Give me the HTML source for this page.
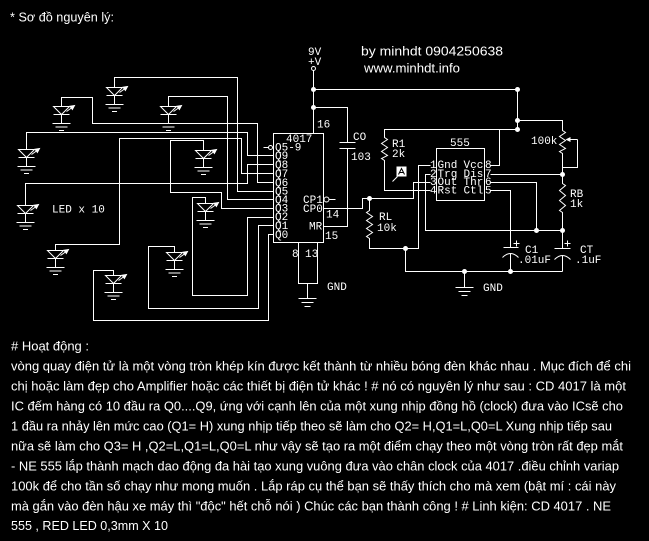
<!DOCTYPE html>
<html><head><meta charset="utf-8"><style>
html,body{margin:0;padding:0;background:#000;}
svg{display:block}
.m{font-family:"Liberation Mono","DejaVu Sans Mono",monospace;fill:#fff;font-size:11px}
.s{font-family:"Liberation Sans","DejaVu Sans",sans-serif;fill:#fff;font-size:13px}
</style></head><body>
<svg width="649" height="541" viewBox="0 0 649 541" xmlns="http://www.w3.org/2000/svg">
<rect width="649" height="541" fill="#000"/>

<text class="s" x="10" y="21.5" font-size="13.5" textLength="104" lengthAdjust="spacingAndGlyphs">* Sơ đồ nguyên lý:</text>
<text class="s" x="361" y="55.5" textLength="142" lengthAdjust="spacingAndGlyphs">by minhdt 0904250638</text>
<text class="s" x="364" y="72.5" font-size="12.5" textLength="96" lengthAdjust="spacingAndGlyphs">www.minhdt.info</text>

<g fill="none" stroke="#fff" stroke-width="1" transform="translate(0.5,0.5)">
  <!-- LED wiring -->
  <path d="M114,87 V77 H237 V191 H273"/>
  <path d="M61,106 V97 H92 V123 H257 V182 H273"/>
  <path d="M26,149 V132 H247 V155 H273"/>
  <path d="M203,150 V140 H170 V192 H221 V208 H273"/>
  <path d="M25,205 V183 H247 V164 H273"/>
  <path d="M168,106 V96 H227 V199 H273"/>
  <path d="M55,250 V244 H119 V138 H241 V173 H273"/>
  <path d="M205,203 V197 H192 V295 H247 V217 H273"/>
  <path d="M174,252 V246 H148 V308 H258 V225 H273"/>
  <path d="M113,275 V270 H93 V320 H268 V234 H273"/>

  <!-- 4017 -->
  <rect x="273" y="133" width="50" height="109"/>
  <path d="M313,70 V133"/>
  <circle cx="313" cy="68" r="2"/>
  <path d="M313,89 H517 V129"/>
  <path d="M313,107 H347 V142 M339,142 H355 M339,148 H355 M347,148 V226 H323"/>
  <circle cx="270" cy="147" r="2"/>
  <path d="M263,147 H268"/>
  <circle cx="326" cy="199" r="2.5"/>
  <path d="M329,199 H335"/>
  <path d="M298,242 V283 H317 V242 M307,283 V298 M298,298 H316 M301,302 H313 M304,306 H310"/>

  <!-- pot + RB + CT column -->
  <path d="M517,120 H562 V130 L565,132 L559,136 L565,140 L559,144 L565,148 L559,151 L562,153 V183 L565,185 L559,190 L565,195 L559,200 L565,205 L559,210 L562,212 V248"/>
  <path d="M554,248 H570 M554,259 Q562,251 570,259 M562,255 V271"/>
  <path d="M577,139 V167 H562 M577,139 H568"/>
  <!-- R1 -->
  <path d="M517,129 H384 V137 L387,139 L381,143 L387,147 L381,151 L387,155 L381,158 L384,160 V190 H430"/>
  <!-- 555 -->
  <rect x="436" y="148" width="48" height="52"/>
  <path d="M490,165 H499 V129"/>
  <path d="M490,174 H562"/>
  <path d="M490,182 H536 V230"/>
  <path d="M490,190 H510 V247 M503,247 H518 M502,257 Q510,249 518,257 M510,253 V271"/>
  <path d="M430,165 H418 V248 H369 V238 L366,236 L372,232 L366,228 L372,224 L366,220 L372,216 L366,212 L369,210 V198"/>
  <path d="M430,174 H425 V230 H562"/>
  <path d="M430,182 H413 V198 H362 V208 H323"/>
  <path d="M405,248 V271 H562"/>
  <path d="M464,271 V287 M455,287 H473 M458,291 H470 M461,295 H467"/>
  <path d="M513,243 H519 M516,240 V246 M564,243 H570 M567,240 V246"/>
  <path d="M397,176 L392,181"/>
</g>

<g fill="#fff" transform="translate(0.5,0.5)">
  <circle cx="313" cy="89" r="2.5"/>
  <circle cx="313" cy="107" r="2.5"/>
  <circle cx="517" cy="89" r="2.5"/>
  <circle cx="517" cy="120" r="2.5"/>
  <circle cx="517" cy="129" r="2.5"/>
  <circle cx="369" cy="198" r="2.5"/>
  <circle cx="405" cy="248" r="2.5"/>
  <circle cx="464" cy="271" r="2.5"/>
  <circle cx="510" cy="271" r="2.5"/>
  <circle cx="536" cy="230" r="2.5"/>
  <circle cx="562" cy="230" r="2.5"/>
  <circle cx="562" cy="174" r="2.5"/>
  <polygon points="565,139 570,136.5 570,141.5"/>
  <rect x="396" y="166" width="10" height="10"/>
  <path d="M398,174 L401,168 L404,174 M399.5,172 H402.5" fill="none" stroke="#000" stroke-width="1"/>
</g>

<!-- LEDs -->
<g fill="none" stroke="#fff" stroke-width="1">
  <g transform="translate(114.5,87.5)"><path d="M-8,0 H8 L0,8 Z M-8,8 H8 M0,8 V17 M-9,17 H9 M-6,20.5 H6 M-2.5,24 H2.5 M5,5 L12,0"/><polygon points="13,-1 10.9,2.9 8.5,-0.3" fill="#fff"/></g>
  <g transform="translate(61.5,106.5)"><path d="M-8,0 H8 L0,8 Z M-8,8 H8 M0,8 V17 M-9,17 H9 M-6,20.5 H6 M-2.5,24 H2.5 M5,5 L12,0"/><polygon points="13,-1 10.9,2.9 8.5,-0.3" fill="#fff"/></g>
  <g transform="translate(26.5,149.5)"><path d="M-8,0 H8 L0,8 Z M-8,8 H8 M0,8 V17 M-9,17 H9 M-6,20.5 H6 M-2.5,24 H2.5 M5,5 L12,0"/><polygon points="13,-1 10.9,2.9 8.5,-0.3" fill="#fff"/></g>
  <g transform="translate(203.5,150.5)"><path d="M-8,0 H8 L0,8 Z M-8,8 H8 M0,8 V17 M-9,17 H9 M-6,20.5 H6 M-2.5,24 H2.5 M5,5 L12,0"/><polygon points="13,-1 10.9,2.9 8.5,-0.3" fill="#fff"/></g>
  <g transform="translate(25.5,205.5)"><path d="M-8,0 H8 L0,8 Z M-8,8 H8 M0,8 V17 M-9,17 H9 M-6,20.5 H6 M-2.5,24 H2.5 M5,5 L12,0"/><polygon points="13,-1 10.9,2.9 8.5,-0.3" fill="#fff"/></g>
  <g transform="translate(168.5,106.5)"><path d="M-8,0 H8 L0,8 Z M-8,8 H8 M0,8 V17 M-9,17 H9 M-6,20.5 H6 M-2.5,24 H2.5 M5,5 L12,0"/><polygon points="13,-1 10.9,2.9 8.5,-0.3" fill="#fff"/></g>
  <g transform="translate(55.5,250.5)"><path d="M-8,0 H8 L0,8 Z M-8,8 H8 M0,8 V17 M-9,17 H9 M-6,20.5 H6 M-2.5,24 H2.5 M5,5 L12,0"/><polygon points="13,-1 10.9,2.9 8.5,-0.3" fill="#fff"/></g>
  <g transform="translate(205.5,203.5)"><path d="M-8,0 H8 L0,8 Z M-8,8 H8 M0,8 V17 M-9,17 H9 M-6,20.5 H6 M-2.5,24 H2.5 M5,5 L12,0"/><polygon points="13,-1 10.9,2.9 8.5,-0.3" fill="#fff"/></g>
  <g transform="translate(174.5,252.5)"><path d="M-8,0 H8 L0,8 Z M-8,8 H8 M0,8 V17 M-9,17 H9 M-6,20.5 H6 M-2.5,24 H2.5 M5,5 L12,0"/><polygon points="13,-1 10.9,2.9 8.5,-0.3" fill="#fff"/></g>
  <g transform="translate(113.5,275.5)"><path d="M-8,0 H8 L0,8 Z M-8,8 H8 M0,8 V17 M-9,17 H9 M-6,20.5 H6 M-2.5,24 H2.5 M5,5 L12,0"/><polygon points="13,-1 10.9,2.9 8.5,-0.3" fill="#fff"/></g>
</g>

<!-- schematic labels -->
<text class="m" x="52" y="212.5" font-size="13">LED x 10</text>
<text class="m" x="308" y="55">9V</text>
<text class="m" x="308" y="65">+V</text>
<text class="m" x="317" y="127.5" font-size="12">16</text>
<text class="m" x="286" y="142">4017</text>
<text class="m" x="275" y="150.5">Q5-9</text>
<text class="m" x="275" y="159">Q9</text>
<text class="m" x="275" y="168">Q8</text>
<text class="m" x="275" y="177">Q7</text>
<text class="m" x="275" y="186">Q6</text>
<text class="m" x="275" y="194.5">Q5</text>
<text class="m" x="275" y="203">Q4</text>
<text class="m" x="275" y="211.5">Q3</text>
<text class="m" x="275" y="220">Q2</text>
<text class="m" x="275" y="229">Q1</text>
<text class="m" x="275" y="238">Q0</text>
<text class="m" x="303" y="203">CP1</text>
<text class="m" x="303" y="212">CP0</text>
<text class="m" x="309" y="229.5">MR</text>
<text class="m" x="326" y="217.5" font-size="12">14</text>
<text class="m" x="325" y="239" font-size="12">15</text>
<text class="m" x="292" y="257" font-size="12">8</text>
<text class="m" x="305" y="257" font-size="12">13</text>
<text class="m" x="327" y="290" font-size="12">GND</text>
<text class="m" x="353" y="140" font-size="12">CO</text>
<text class="m" x="351" y="160">103</text>
<text class="m" x="392" y="147">R1</text>
<text class="m" x="392" y="157">2k</text>
<text class="m" x="450" y="146">555</text>
<text class="m" x="430" y="168">1</text>
<text class="m" x="430" y="177">2</text>
<text class="m" x="430" y="185">3</text>
<text class="m" x="430" y="193.5">4</text>
<text class="m" x="437.5" y="168">Gnd</text>
<text class="m" x="437.5" y="177">Trg</text>
<text class="m" x="437.5" y="185">Out</text>
<text class="m" x="437.5" y="193.5">Rst</text>
<text class="m" x="463.5" y="168">Vcc</text>
<text class="m" x="463.5" y="177">Dis</text>
<text class="m" x="463.5" y="185">Thr</text>
<text class="m" x="463.5" y="193.5">Ctl</text>
<text class="m" x="485" y="168">8</text>
<text class="m" x="485" y="177">7</text>
<text class="m" x="485" y="185">6</text>
<text class="m" x="485" y="193.5">5</text>
<text class="m" x="379" y="220">RL</text>
<text class="m" x="377" y="231">10k</text>
<text class="m" x="531" y="144">100k</text>
<text class="m" x="570" y="197">RB</text>
<text class="m" x="570" y="207">1k</text>
<text class="m" x="525" y="253">C1</text>
<text class="m" x="518" y="263">.01uF</text>
<text class="m" x="580" y="253">CT</text>
<text class="m" x="575" y="263">.1uF</text>
<text class="m" x="483" y="291" font-size="12">GND</text>

<!-- description text -->
<text class="s" x="11" y="350.5" textLength="78" lengthAdjust="spacingAndGlyphs"># Hoạt động :</text>
<text class="s" x="11" y="370.5" textLength="620" lengthAdjust="spacingAndGlyphs">vòng quay điện tử là một vòng tròn khép kín được kết thành từ nhiều bóng đèn khác nhau . Mục đích để chi</text>
<text class="s" x="11" y="390.5" textLength="615" lengthAdjust="spacingAndGlyphs">chị hoặc làm đẹp cho Amplifier hoặc các thiết bị điện tử khác ! # nó có nguyên lý như sau : CD 4017 là một</text>
<text class="s" x="11" y="410.5" textLength="612" lengthAdjust="spacingAndGlyphs">IC đếm hàng có 10 đầu ra Q0....Q9, ứng với cạnh lên của một xung nhịp đồng hồ (clock) đưa vào ICsẽ cho</text>
<text class="s" x="11" y="430.5" textLength="601" lengthAdjust="spacingAndGlyphs">1 đầu ra nhảy lên mức cao (Q1= H) xung nhịp tiếp theo sẽ làm cho Q2= H,Q1=L,Q0=L Xung nhịp tiếp sau</text>
<text class="s" x="11" y="450.5" textLength="612" lengthAdjust="spacingAndGlyphs">nữa sẽ làm cho Q3= H ,Q2=L,Q1=L,Q0=L như vậy sẽ tạo ra một điểm chạy theo một vòng tròn rất đẹp mắt</text>
<text class="s" x="11" y="470.5" textLength="608" lengthAdjust="spacingAndGlyphs">- NE 555 lắp thành mạch dao động đa hài tạo xung vuông đưa vào chân clock của 4017 .điều chỉnh variap</text>
<text class="s" x="11" y="490.5" textLength="605" lengthAdjust="spacingAndGlyphs">100k để cho tần số chạy như mong muốn . Lắp ráp cụ thể bạn sẽ thấy thích cho mà xem (bật mí : cái này</text>
<text class="s" x="11" y="510.5" textLength="600" lengthAdjust="spacingAndGlyphs">mà gắn vào đèn hậu xe máy thì &quot;độc&quot; hết chỗ nói ) Chúc các bạn thành công ! # Linh kiện: CD 4017 . NE</text>
<text class="s" x="11" y="530" textLength="157" lengthAdjust="spacingAndGlyphs">555 , RED LED 0,3mm X 10</text>
</svg>
</body></html>
